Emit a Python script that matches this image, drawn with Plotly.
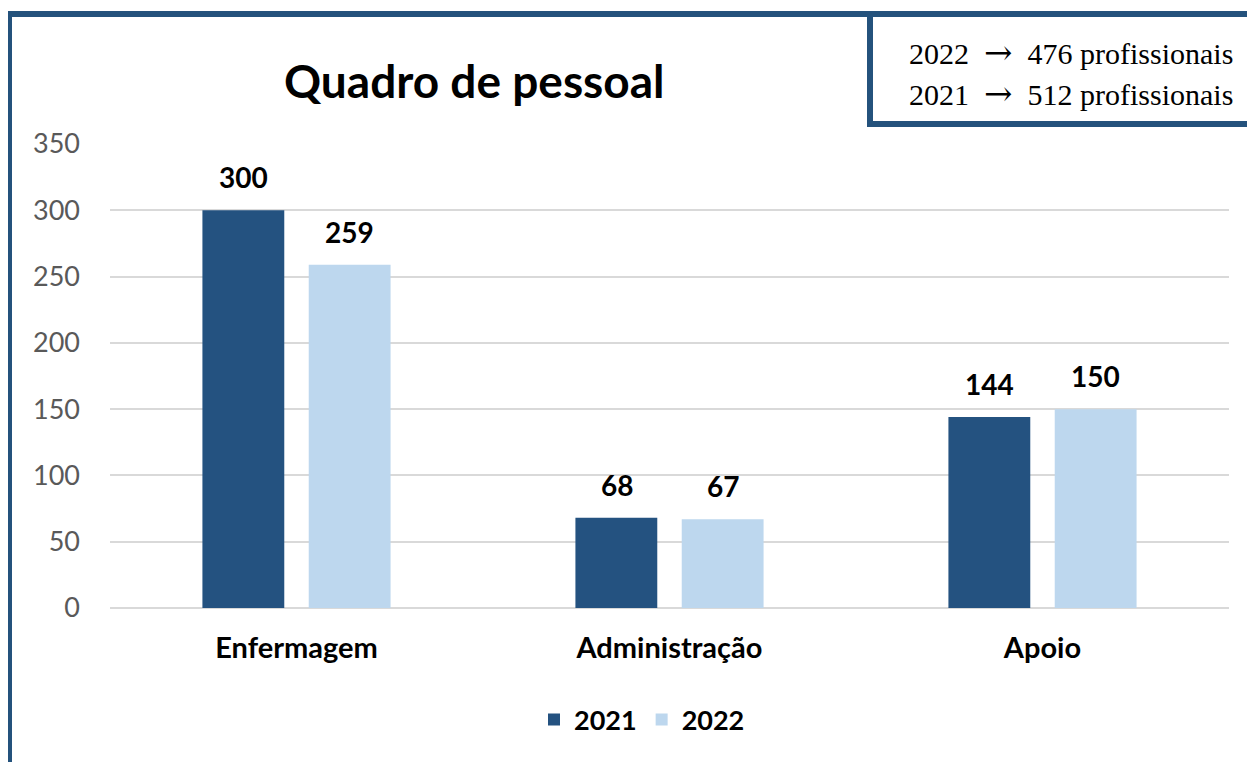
import plotly.graph_objects as go

categories = ["Enfermagem", "Administração", "Apoio"]
series_names = ["2021", "2022"]
values_2021 = [300, 68, 144]
values_2022 = [259, 67, 150]
y_ticks = [0, 50, 100, 150, 200, 250, 300, 350]
title_text = "Quadro de pessoal"
box_years = ["2022", "2021"]
box_counts = ["476", "512"]
box_word = "profissionais"

W, H = 1255, 762
OFF = 8  # page body margin
DARK = "#245280"
LIGHT = "#BDD7EE"
FRAME = "#24527C"
FONT = "Lato"

def px(x):
    return (x - OFF) / W

def py(y):
    return (H - (y - OFF)) / H

fig = go.Figure()
fig.add_trace(go.Bar(x=categories, y=values_2021, name=series_names[0],
                     marker=dict(color=DARK, line=dict(width=0))))
fig.add_trace(go.Bar(x=categories, y=values_2022, name=series_names[1],
                     marker=dict(color=LIGHT, line=dict(width=0))))

annotations = []
for vals, shift in ((values_2021, -53), (values_2022, 53)):
    for c, v in zip(categories, vals):
        annotations.append(dict(x=c, y=v, xref="x", yref="y", text=str(v),
                                showarrow=False, xshift=shift, yshift=14,
                                yanchor="bottom",
                                font=dict(family=FONT, size=28, color="#000000", weight="bold")))

annotations.append(dict(x=px(474), y=py(80), xref="paper", yref="paper", text=title_text,
                        showarrow=False, xanchor="center", yanchor="middle",
                        font=dict(family=FONT, size=46, color="#000000", weight="bold")))
arrow = '<span style="font-family:\'DejaVu Serif\';font-size:34px">\u2192</span>'
sp = "\u2002"
for yr, cnt, yy in zip(box_years, box_counts, (52, 93)):
    annotations.append(dict(x=px(1235), y=py(yy), xref="paper", yref="paper",
                            text=f"{yr}{sp}{arrow}{sp}{cnt} {box_word}",
                            showarrow=False, xanchor="right", yanchor="middle",
                            font=dict(family="Liberation Serif", size=30, color="#000000")))

shapes = [
    dict(type="line", xref="paper", yref="paper", x0=px(9), x1=px(9), y0=py(780), y1=py(11),
         line=dict(color=FRAME, width=6)),
    dict(type="line", xref="paper", yref="paper", x0=px(6), x1=px(1270), y0=py(14), y1=py(14),
         line=dict(color=FRAME, width=6)),
    dict(type="line", xref="paper", yref="paper", x0=px(870), x1=px(870), y0=py(14), y1=py(127),
         line=dict(color=FRAME, width=6)),
    dict(type="line", xref="paper", yref="paper", x0=px(867), x1=px(1270), y0=py(124), y1=py(124),
         line=dict(color=FRAME, width=6)),
    dict(type="line", xref="paper", yref="paper", x0=px(1254.3), x1=px(1254.3), y0=py(14), y1=py(124),
         line=dict(color="#7F97B0", width=1.5)),
]

fig.update_layout(
    width=W, height=H, autosize=False,
    margin=dict(l=0, r=0, t=0, b=0, pad=0),
    paper_bgcolor="white", plot_bgcolor="white",
    barmode="group", bargap=0.43, bargroupgap=0.23,
    showlegend=True,
    legend=dict(orientation="h", x=px(642), xanchor="center", y=py(720), yanchor="middle",
                font=dict(family=FONT, size=27, color="#000000", weight="bold"),
                itemsizing="constant", itemwidth=30, bgcolor="rgba(0,0,0,0)"),
    xaxis=dict(domain=[px(110), px(1229)], automargin=False, showgrid=False, showline=False,
               zeroline=False, ticks="", ticklabelstandoff=20,
               tickfont=dict(family=FONT, size=29, color="#000000", weight="bold")),
    yaxis=dict(domain=[py(608), py(144)], automargin=False, range=[0, 350], tickvals=y_ticks,
               showgrid=True, gridcolor="#D9D9D9", gridwidth=2,
               zeroline=True, zerolinecolor="#D9D9D9", zerolinewidth=2,
               showline=False, ticks="", ticklabelstandoff=29,
               tickfont=dict(family=FONT, size=27, color="#595959")),
    annotations=annotations,
    shapes=shapes,
)

fig.write_html("out.html")
